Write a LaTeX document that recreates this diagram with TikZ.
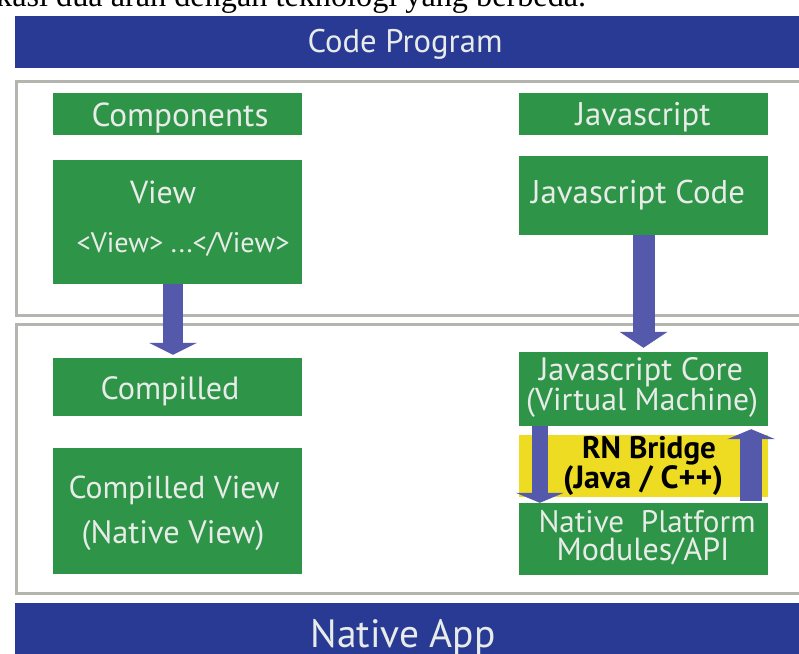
\documentclass[tikz,border=0pt]{standalone}
\usepackage{fontspec}
\setmainfont{PT Sans}
\newfontfamily\bodyserif{Liberation Serif}
\usetikzlibrary{arrows.meta}

\definecolor{banner}{HTML}{293A94}
\definecolor{boxgreen}{HTML}{2E9447}
\definecolor{flow}{HTML}{5559AB}
\definecolor{bridge}{HTML}{EEDC22}
\definecolor{frame}{HTML}{B5B5B0}
\definecolor{ink}{HTML}{E8ECE8}

% set #2 at the font size that makes it #1 pt wide
\newlength\fitlen
\newcommand\fitwidth[2]{%
  \settowidth\fitlen{\fontsize{10pt}{12pt}\selectfont #2}%
  \pgfmathsetmacro\fitsize{10*#1/\fitlen}%
  \fontsize{\fitsize pt}{\fitsize pt}\selectfont #2}

\begin{document}
\begin{tikzpicture}[x=1pt,y=-1pt,
  bannerbox/.style={fill=banner,draw=none},
  panel/.style={draw=frame,line width=3pt,fill=white},
  gbox/.style={fill=boxgreen,draw=none,inner sep=0pt,minimum width=249pt},
  ybox/.style={fill=bridge,draw=none,inner sep=0pt,minimum width=249pt},
  lbl/.style={text=ink,inner sep=0pt,anchor=base},
  blbl/.style={text=black,inner sep=0pt,anchor=base},
  flowarrow/.style={draw=flow,-{Triangle[length=#1,width=48pt,line width=0pt]}},
]
\useasboundingbox (0,0) rectangle (799,653);
\clip (0,0) rectangle (799,653);

% running text of the page above the figure
\node[inner sep=0pt,anchor=base west] (caption) at (-4,6)
  {\bodyserif\fitwidth{590}{kasi dua arah dengan teknologi yang berbeda.}};

% banners and panels
\fill[banner] (15,16) rectangle (820,68);
\node[lbl] (codeprog) at (405,52) {\fitwidth{195}{Code Program}};
\draw[panel] (16,81) rectangle (820,315);
\draw[panel] (16,324) rectangle (820,593);
\fill[banner] (15,603) rectangle (820,670);
\node[lbl] (nativeapp) at (403,647) {\fitwidth{185}{Native App}};

% left column
\node[gbox,minimum height=42pt] (comp) at (177.5,114) {};
\node[lbl] (compt) at (180,126) {\fitwidth{177}{Components}};
\node[gbox,minimum height=124pt] (view) at (177.5,222) {};
\node[lbl] (viewt) at (163,203) {\fitwidth{66}{View}};
\node[lbl] (viewtag) at (183,252) {\fitwidth{213}{<View> ...</View>}};
\node[gbox,minimum height=58pt] (compiled) at (177.5,387) {};
\node[lbl] (compiledt) at (170,399) {\fitwidth{139}{Compilled}};
\node[gbox,minimum height=126pt] (cview) at (177.5,511) {};
\node[lbl] (cviewa) at (174,498) {\fitwidth{211}{Compilled View}};
\node[lbl] (cviewb) at (173,543) {\fitwidth{183}{(Native View)}};

% right column
\node[gbox,minimum height=42pt] (js) at (643.5,114) {};
\node[lbl] (jst) at (643,125) {\fitwidth{135}{Javascript}};
\node[gbox,minimum height=79pt] (jscode) at (643.5,195.5) {};
\node[lbl] (jscodet) at (638,203) {\fitwidth{214}{Javascript Code}};
\node[gbox,minimum height=74pt] (core) at (643.5,389) {};
\node[lbl] (corea) at (641,380) {\fitwidth{204}{Javascript Core}};
\node[lbl] (coreb) at (642,410) {\fitwidth{232}{(Virtual Machine)}};
\node[ybox,minimum height=62pt] (rnb) at (643.5,466) {};
\node[blbl] (rnba) at (649,458) {\bfseries\fitwidth{134}{\bfseries RN Bridge}};
\node[blbl] (rnbb) at (643,488) {\bfseries\fitwidth{160}{\bfseries (Java / C++)}};
\node[gbox,minimum height=72pt] (platform) at (643.5,539) {};
\node[lbl] (platforma) at (647,532) {\fitwidth{217}{Native\ \ Platform}};
\node[lbl] (platformb) at (643,560) {\fitwidth{173}{Modules/API}};

% flow arrows
\draw[flowarrow=12pt,line width=20pt,shorten >=3pt]
  ([xshift=-4.5pt]view.south) -- ([xshift=-4.5pt]compiled.north);
\draw[flowarrow=16pt,line width=22pt,shorten >=4pt]
  (jscode.south) -- (core.north);
\draw[flowarrow=10pt,line width=16pt]
  ([xshift=21pt]core.south west) -- ([xshift=21pt]platform.north west);
\draw[flowarrow=10pt,line width=22pt,shorten >=3pt]
  ([xshift=-17pt,yshift=2pt]platform.north east) -- ([xshift=-17pt]core.south east);
\end{tikzpicture}
\end{document}
